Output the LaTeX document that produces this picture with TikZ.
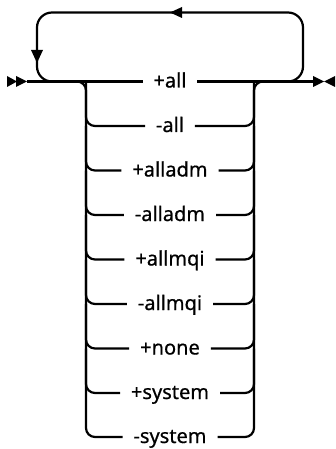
\documentclass[tikz,border=0pt]{standalone}
\usepackage{fontspec}
\setmainfont[FakeBold=0.6]{Noto Sans}
\begin{document}
\begin{tikzpicture}[x=1pt,y=-1pt,line width=2.2pt,
  lbl/.style={font=\fontsize{20}{23}\selectfont,inner sep=0pt,outer xsep=11pt,outer ysep=0pt,text height=12pt,text depth=0pt},
  branch/.style={rounded corners=9pt},
  loopline/.style={rounded corners=15pt},
  tip/.style={fill=black,draw=none}]
\useasboundingbox (0,0) rectangle (335,449);
\def\ys{{81.5,126,170.5,215,259.5,304,348.5,393,437}}
\foreach \t [count=\i from 0] in {+all,-all,+alladm,-alladm,+allmqi,-allmqi,+none,+system,-system}{
  \pgfmathsetmacro\yy{\ys[\i]}
  \node[lbl] (t\i) at (170,\yy) {\t};
}
\coordinate (L) at (86,81.5);
\coordinate (R) at (254,81.5);
\coordinate (S) at (27,81.5);
\coordinate (E) at (313,81.5);
% main line
\draw (S) -- (t0.west);
\draw (t0.east) -- (E);
% left branches
\draw[branch] ([xshift=-20pt]L) -- (L) -- (L |- t8) -- (t8.west);
\foreach \i [evaluate=\i as \j using int(\i-1)] in {1,...,7}{
  \draw[branch] (L |- t\j) -- (L |- t\i) -- (t\i.west);
}
% right branches
\draw[branch] ([xshift=20pt]R) -- (R) -- (R |- t8) -- (t8.east);
\foreach \i [evaluate=\i as \j using int(\i-1)] in {1,...,7}{
  \draw[branch] (R |- t\j) -- (R |- t\i) -- (t\i.east);
}
% loop
\coordinate (LT) at (37,12.5);
\coordinate (RT) at (303,12.5);
\draw[loopline] (270,81.5) -- (RT |- L) -- (RT) -- (LT) -- (LT |- L) -- (70,81.5);
% arrowheads
\fill[tip] (170,12.5) -- (182,7) -- (182,18) -- cycle;
\fill[tip] (37,63) -- (31,50) -- (43,50) -- cycle;
\fill[tip] (7,76) -- (17,81.5) -- (7,87) -- cycle;
\fill[tip] (16,76) -- (27,81.5) -- (16,87) -- cycle;
\fill[tip] (313,76) -- (324,81.5) -- (313,87) -- cycle;
\fill[tip] (335,76) -- (324,81.5) -- (335,87) -- cycle;
\end{tikzpicture}
\end{document}
